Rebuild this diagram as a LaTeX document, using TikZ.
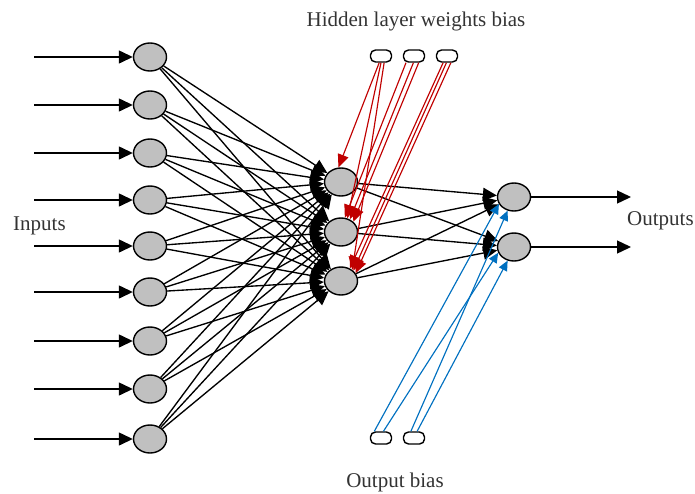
\documentclass[tikz,border=0pt]{standalone}
\usepackage{fontspec}
\setmainfont{Liberation Serif}
\usetikzlibrary{arrows.meta,shapes.geometric}
\definecolor{nodegray}{HTML}{C0C0C0}
\definecolor{biasred}{HTML}{C00000}
\definecolor{biasblue}{HTML}{0070C0}
\definecolor{labelgray}{HTML}{333333}
\begin{document}
\begin{tikzpicture}[x=1pt,y=-1pt,
  neuron/.style={ellipse, draw, line width=1.4pt, fill=nodegray,
    minimum width=33pt, minimum height=28pt, inner sep=0pt},
  biasbox/.style={rectangle, rounded corners=5pt, draw, line width=1.4pt,
    fill=white, minimum width=21pt, minimum height=12pt, inner sep=0pt},
  wire/.style={line width=1.35pt, -{Triangle[length=14pt,width=13pt]}},
  redwire/.style={biasred, line width=1.15pt, -{Triangle[length=13pt,width=11pt]}},
  bluewire/.style={biasblue, line width=1.15pt, -{Triangle[length=10pt,width=9pt]}},
  lbl/.style={font=\fontsize{21}{24}\selectfont, text=labelgray, inner sep=0pt}]
  \useasboundingbox (0,0) rectangle (695,493);

  % input layer with its incoming arrows
  \foreach \y [count=\i] in {57,105,153,200,246,292,341,389,439} {
    \node[neuron] (i\i) at (150,\y) {};
    \coordinate (s\i) at (34,\y);
    \draw[wire] (s\i) -- (i\i);
  }

  % hidden layer
  \foreach \y [count=\j] in {182,232,281}
    \node[neuron] (h\j) at (341,\y) {};

  % output layer with its outgoing arrows
  \foreach \y [count=\k] in {197,247} {
    \node[neuron] (y\k) at (514,\y) {};
    \coordinate (e\k) at (631,\y);
    \draw[wire] (y\k) -- (e\k);
  }

  % bias boxes
  \node[biasbox] (b1) at (381,56) {};
  \node[biasbox] (b2) at (414,56) {};
  \node[biasbox] (b3) at (447,56) {};
  \node[biasbox] (o1) at (381,438) {};
  \node[biasbox] (o2) at (414,438) {};

  % input -> hidden weights
  \foreach \i in {1,...,9}
    \foreach \j in {1,2,3}
      \draw[wire] (i\i) -- (h\j);

  % hidden -> output weights
  \foreach \j in {1,2,3}
    \foreach \k in {1,2}
      \draw[wire] (h\j) -- (y\k);

  % hidden layer biases
  \draw[redwire] (b1.255) -- (h1.100);
  \draw[redwire] (b1.south) -- (h2.65);
  \draw[redwire] (b1.295) -- (h3.45);
  \draw[redwire] (b2.220) -- (h2.75);
  \draw[redwire] (b2.265) -- (h2.55);
  \draw[redwire] (b2.305) -- (h2.40);
  \draw[redwire] (b3.240) -- (h3.55);
  \draw[redwire] (b3.265) -- (h3.40);
  \draw[redwire] (b3.300) -- (h3.28);

  % output layer biases
  \draw[bluewire] (o1.135) -- (y1.205);
  \draw[bluewire] (o1.70) -- (y2.200);
  \draw[bluewire] (o2.115) -- (y1.245);
  \draw[bluewire] (o2.65) -- (y2.245);

  % labels
  \node[lbl, anchor=base] (hidtitle) at (416,26) {Hidden layer weights bias};
  \node[lbl, anchor=base] (outtitle) at (395,487) {Output bias};
  \node[lbl, anchor=base west] (inlabel) at (13,230) {Inputs};
  \node[lbl, anchor=base west] (outlabel) at (627,225) {Outputs};
\end{tikzpicture}
\end{document}
